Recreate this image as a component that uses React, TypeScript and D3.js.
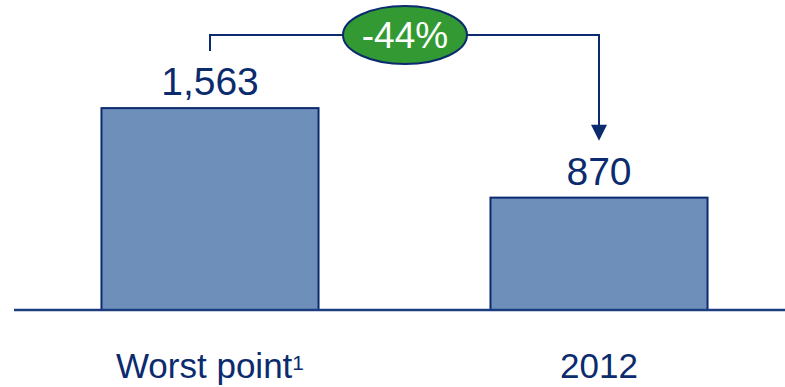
import React from "react";
import * as d3 from "d3";

const categories = ["Worst point", "2012"];
const values = [1563, 870];
const valueLabels = ["1,563", "870"];
const superscripts = ["1", ""];
const changeLabel = "-44%";

const W = 785;
const H = 387;
const NAVY = "#0b2b6e";

export default function App() {
  const x = d3
    .scaleBand<string>()
    .domain(categories)
    .range([15.5, 793.5])
    .paddingInner(0.442)
    .paddingOuter(0.221);
  const y = d3.scaleLinear().domain([0, 2400]).range([310, 0]);
  const fmt = d3.format(",");

  const cx = (c: string) => (x(c) as number) + x.bandwidth() / 2;
  const c0 = cx(categories[0]);
  const c1 = cx(categories[1]);
  const topY = 35;
  const arrowTip = y(values[1]) - 57;
  const midX = 405;

  return (
    <svg
      width={W}
      height={H}
      style={{ position: "absolute", left: 0, top: 0, display: "block" }}
      fontFamily="Arial, 'Liberation Sans', Helvetica, sans-serif"
    >
      <rect x={0} y={0} width={W} height={H} fill="#ffffff" />
      {categories.map((c, i) => (
        <g key={c}>
          <rect
            x={x(c)}
            y={y(values[i])}
            width={x.bandwidth()}
            height={y(0) - y(values[i])}
            fill="#6f8fbb"
            stroke={NAVY}
            strokeWidth={2}
          />
          <text
            x={cx(c)}
            y={y(values[i]) - 13}
            textAnchor="middle"
            fontSize={39}
            fill={NAVY}
          >
            {valueLabels[i] || fmt(values[i])}
          </text>
          <text x={cx(c)} y={378} textAnchor="middle" fontSize={35} fill={NAVY}>
            {c}
            {superscripts[i] ? (
              <tspan fontSize={21} dy={-8}>
                {superscripts[i]}
              </tspan>
            ) : null}
          </text>
        </g>
      ))}
      <line x1={14} x2={W} y1={y(0)} y2={y(0)} stroke="#1c3c80" strokeWidth={2.5} />
      <path
        d={`M${c0},${y(values[0]) - 57} V${topY} H${c1} V${arrowTip - 15}`}
        fill="none"
        stroke={NAVY}
        strokeWidth={2}
      />
      <path
        d={`M${c1 - 8},${arrowTip - 16} L${c1 + 8},${arrowTip - 16} L${c1},${arrowTip} Z`}
        fill={NAVY}
      />
      <ellipse cx={midX} cy={topY} rx={62} ry={29} fill="#339933" stroke={NAVY} strokeWidth={2} />
      <text x={midX} y={topY + 13} textAnchor="middle" fontSize={37} fill="#ffffff">
        {changeLabel}
      </text>
    </svg>
  );
}
